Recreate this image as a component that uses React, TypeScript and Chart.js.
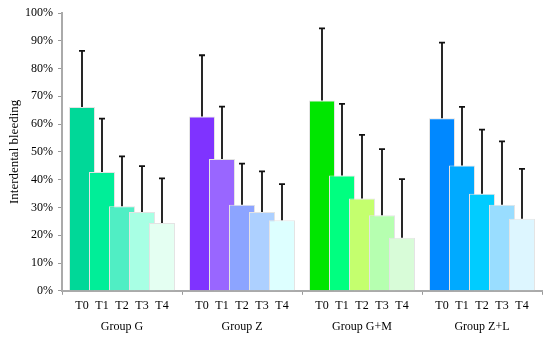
import React, { useEffect, useRef } from "react";
import { Chart, registerables } from "chart.js";

Chart.register(...registerables);

const groups = ["Group G", "Group Z", "Group G+M", "Group Z+L"];
const times = ["T0", "T1", "T2", "T3", "T4"];

const meanG = [66.2, 42.8, 30.4, 28.4, 24.4];
const meanZ = [62.7, 47.4, 31.0, 28.4, 25.4];
const meanGM = [68.5, 41.5, 33.2, 27.2, 19.1];
const meanZL = [62.1, 45.1, 34.9, 31.0, 25.9];

const sdG = [20.2, 19.2, 18.0, 16.5, 16.1];
const sdZ = [22.1, 18.9, 14.8, 14.6, 13.0];
const sdGM = [26.0, 25.8, 22.9, 23.8, 21.1];
const sdZL = [27.2, 21.1, 23.1, 22.8, 18.0];

const colorsG = ["#00D898", "#00EE98", "#50EEC4", "#A8FFE4", "#E4FFF2"];
const colorsZ = ["#7F33FF", "#9966FF", "#8CA4FF", "#ADD0FF", "#DDFFFF"];
const colorsGM = ["#00E600", "#00FF80", "#C4FF6E", "#B6FFB0", "#D8FCD8"];
const colorsZL = ["#0088FF", "#00AAFF", "#00CCFF", "#99DDFF", "#DDF6FF"];

const yTicks = [0, 10, 20, 30, 40, 50, 60, 70, 80, 90, 100];

const means = [meanG, meanZ, meanGM, meanZL];
const sds = [sdG, sdZ, sdGM, sdZL];
const colors = [colorsG, colorsZ, colorsGM, colorsZL];

const SLOT = times.length + 1;
const FONT = "Liberation Serif";

export default function App() {
  const ref = useRef<HTMLCanvasElement | null>(null);

  useEffect(() => {
    if (!ref.current) return;
    const points: { x: number; y: number }[] = [];
    const errs: number[] = [];
    const bg: string[] = [];
    means.forEach((arr, g) =>
      arr.forEach((v, i) => {
        points.push({ x: g * SLOT + 1 + i, y: v });
        errs.push(v + sds[g][i]);
        bg.push(colors[g][i]);
      })
    );

    const errorBars = {
      id: "errorBars",
      afterDatasetsDraw(chart: any) {
        const meta = chart.getDatasetMeta(0);
        const yScale = chart.scales.y;
        const ctx = chart.ctx;
        ctx.save();
        ctx.strokeStyle = "#111";
        ctx.lineWidth = 1.8;
        meta.data.forEach((el: any, idx: number) => {
          const top = yScale.getPixelForValue(errs[idx]);
          ctx.beginPath();
          ctx.moveTo(el.x, el.y);
          ctx.lineTo(el.x, top);
          ctx.moveTo(el.x - 3, top);
          ctx.lineTo(el.x + 3, top);
          ctx.stroke();
        });
        ctx.restore();
      },
    };

    const chart = new Chart(ref.current, {
      type: "bar",
      data: {
        datasets: [
          {
            data: points as any,
            backgroundColor: bg,
            borderColor: "rgba(228,228,228,1)",
            borderWidth: 1,
            barPercentage: 1.3,
            categoryPercentage: 1,
          },
        ],
      },
      options: {
        animation: false,
        responsive: false,
        layout: { padding: { top: 13, right: 8, left: 0, bottom: 0 } },
        plugins: { legend: { display: false }, tooltip: { enabled: false } },
        scales: {
          x: {
            type: "linear",
            offset: false,
            min: 0,
            max: groups.length * SLOT,
            afterBuildTicks: (scale: any) => {
              const t = [];
              for (let v = 0; v <= groups.length * SLOT; v++) t.push({ value: v });
              scale.ticks = t;
            },
            ticks: {
              autoSkip: false,
              maxRotation: 0,
              padding: 0,
              color: "#000",
              font: { family: FONT, size: 12, lineHeight: 1.8 },
              callback: (value: any) => {
                const v = Number(value);
                const g = Math.floor(v / SLOT);
                const i = (v % SLOT) - 1;
                if (i < 0 || g >= groups.length) return "";
                if (i === 2) return [times[i], groups[g]];
                return times[i];
              },
            },
            grid: {
              offset: false,
              drawOnChartArea: false,
              drawTicks: true,
              tickLength: 4,
              tickColor: (ctx: any) =>
                ctx.tick && ctx.tick.value % SLOT === 0 ? "#999" : "rgba(0,0,0,0)",
            },
            border: { display: true, color: "#aaa", width: 2 },
          },
          y: {
            min: 0,
            max: 100,
            afterBuildTicks: (scale: any) => {
              scale.ticks = yTicks.map((v) => ({ value: v }));
            },
            afterFit: (scale: any) => {
              scale.width = 62;
            },
            ticks: {
              padding: 5,
              color: "#000",
              font: { family: FONT, size: 12 },
              callback: (v: any) => v + "%",
            },
            grid: {
              drawOnChartArea: false,
              drawTicks: true,
              tickLength: 4,
              tickColor: "#999",
            },
            border: { display: true, color: "#aaa", width: 2 },
            title: {
              display: true,
              text: "Interdental bleeding",
              color: "#000",
              font: { family: FONT, size: 13 },
              padding: { top: 7, bottom: 0 },
            },
          },
        },
      },
      plugins: [errorBars],
    });
    return () => chart.destroy();
  }, []);

  return (
    <div style={{ position: "fixed", left: 0, top: 0, width: 550, height: 338, background: "#fff" }}>
      <canvas ref={ref} width={550} height={338} />
    </div>
  );
}
